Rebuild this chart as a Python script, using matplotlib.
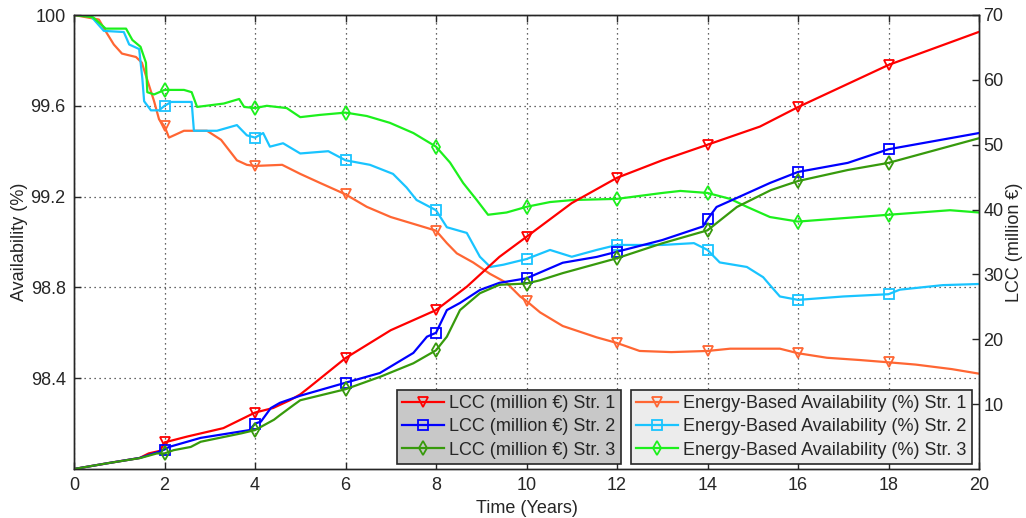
import numpy as np
import matplotlib
matplotlib.use("Agg")
import matplotlib.pyplot as plt
from matplotlib.lines import Line2D

plt.rcParams['font.family'] = ['Liberation Sans', 'DejaVu Sans']

# availability (%)
t_av1 = [0, 0.55, 0.71, 0.88, 1.06, 1.37, 1.5, 1.61, 1.77, 1.88, 2, 2.1, 2.43, 2.94, 3.25, 3.6, 3.82, 4,
         4.6, 5, 5.44, 6, 6.47, 7, 7.5, 8, 8.24, 8.46, 8.82, 9.19, 9.56, 9.86, 10, 10.3, 10.8, 11.55, 12,
         12.5, 13.2, 14, 14.5, 15.6, 16, 16.64, 17.37, 18, 18.6, 19.4, 20]
av1 = [100, 99.98, 99.925, 99.87, 99.83, 99.815, 99.79, 99.72, 99.62, 99.54, 99.51, 99.46, 99.49, 99.49,
       99.45, 99.36, 99.34, 99.335, 99.34, 99.30, 99.26, 99.21, 99.155, 99.11, 99.08, 99.05, 98.995, 98.95,
       98.91, 98.86, 98.82, 98.76, 98.74, 98.69, 98.63, 98.58, 98.555, 98.52, 98.515, 98.52, 98.53, 98.53,
       98.51, 98.49, 98.48, 98.47, 98.46, 98.44, 98.42]

t_av2 = [0, 0.35, 0.66, 1.1, 1.22, 1.44, 1.51, 1.55, 1.7, 1.88, 2, 2.15, 2.6, 2.65, 3.16, 3.6, 3.82, 4,
         4.18, 4.33, 4.62, 5, 5.62, 6, 6.54, 7.05, 7.35, 7.57, 8, 8.24, 8.68, 8.97, 9.2, 9.49, 10, 10.52,
         11.0, 11.55, 12, 13.0, 13.7, 14, 14.27, 14.87, 15.23, 15.38, 15.6, 16, 17, 18, 18.25, 19.2, 20]
av2 = [100, 100, 99.93, 99.925, 99.87, 99.85, 99.72, 99.62, 99.58, 99.58, 99.60, 99.617, 99.617, 99.49,
       99.49, 99.515, 99.47, 99.46, 99.48, 99.42, 99.435, 99.39, 99.40, 99.36, 99.34, 99.30, 99.24, 99.185,
       99.14, 99.065, 99.04, 98.935, 98.89, 98.90, 98.925, 98.965, 98.935, 98.965, 98.987, 98.987, 98.995,
       98.965, 98.91, 98.89, 98.845, 98.81, 98.76, 98.745, 98.76, 98.77, 98.79, 98.81, 98.815]

t_av3 = [0, 0.42, 0.7, 1.15, 1.29, 1.47, 1.59, 1.62, 1.77, 2, 2.43, 2.6, 2.72, 3.31, 3.65, 3.76, 4, 4.26,
         4.7, 5, 5.44, 6, 6.47, 6.98, 7.5, 8, 8.31, 8.6, 8.9, 9.15, 9.56, 10, 10.52, 11.03, 12, 13.0, 13.4,
         14, 14.5, 14.87, 15.38, 16, 17, 18, 19.36, 20]
av3 = [100, 99.99, 99.94, 99.94, 99.89, 99.86, 99.79, 99.66, 99.65, 99.67, 99.67, 99.66, 99.595, 99.61,
       99.63, 99.595, 99.59, 99.60, 99.59, 99.55, 99.56, 99.57, 99.555, 99.525, 99.48, 99.42, 99.35, 99.26,
       99.185, 99.12, 99.13, 99.155, 99.176, 99.185, 99.19, 99.216, 99.225, 99.216, 99.19, 99.155, 99.11,
       99.09, 99.105, 99.12, 99.14, 99.13]

# LCC (million EUR)
t_lcc1 = [0, 0.75, 1.45, 1.65, 1.9, 2, 2.5, 3.3, 4, 4.4, 4.77, 5, 5.2, 6, 7, 8, 8.68, 9.4, 10, 11, 12, 13,
          14, 15.16, 16, 18, 20]
lcc1 = [0, 0.9, 1.7, 2.4, 2.8, 4.1, 5.0, 6.3, 8.7, 9.4, 10.6, 11.5, 12.6, 17.1, 21.4, 24.5, 28.1, 32.7,
        35.8, 41.0, 44.9, 47.6, 50.0, 52.8, 55.8, 62.3, 67.4]

t_lcc2 = [0, 0.75, 1.45, 1.85, 2.0, 2.1, 2.8, 3.7, 3.88, 4.0, 4.13, 4.35, 4.55, 5, 6, 6.76, 7.5, 7.8, 8,
          8.24, 8.53, 8.97, 9.4, 10, 10.8, 11.55, 12, 13.0, 13.9, 14, 14.2, 14.65, 15.38, 16, 17.1, 18, 20]
lcc2 = [0, 0.9, 1.7, 2.6, 3.0, 3.4, 4.8, 5.8, 6.0, 7.0, 7.3, 9.4, 10.2, 11.3, 13.3, 14.8, 17.9, 20.4, 21.0,
        24.5, 25.6, 27.6, 28.7, 29.4, 31.8, 32.7, 33.5, 35.3, 37.4, 38.5, 40.4, 41.8, 44.1, 45.8, 47.2, 49.3,
        51.8]

t_lcc3 = [0, 0.75, 1.47, 1.83, 2, 2.2, 2.58, 2.8, 3.7, 4, 4.42, 4.55, 4.86, 5, 6, 6.76, 7.5, 8, 8.24, 8.53,
          8.97, 9.4, 10, 10.3, 10.8, 12, 13, 14, 14.65, 15.4, 16, 17.1, 18, 20]
lcc3 = [0, 0.9, 1.7, 2.4, 2.4, 2.9, 3.4, 4.2, 5.5, 6.0, 7.6, 8.3, 9.9, 10.6, 12.3, 14.2, 16.3, 18.3, 20.4,
        24.5, 27.1, 28.4, 28.6, 29.1, 30.2, 32.5, 34.8, 36.8, 40.4, 43.0, 44.4, 46.1, 47.2, 51.0]

lcc_labels = ['LCC (million €) Str. 1', 'LCC (million €) Str. 2', 'LCC (million €) Str. 3']
av_labels = ['Energy-Based Availability (%) Str. 1', 'Energy-Based Availability (%) Str. 2',
             'Energy-Based Availability (%) Str. 3']

mark_years = np.arange(2, 19, 2)


def marks(t):
    t = np.asarray(t)
    return [i for i, v in enumerate(t) if np.any(np.isclose(v, mark_years))]


fig = plt.figure(figsize=(10.26, 5.18), dpi=100)
ax1 = fig.add_axes([74 / 1026, 49 / 518, 905 / 1026, 454 / 518])
ax2 = ax1.twinx()

lw = 1.6
ms = 7.5
av_style = [('#ff6633', 'v'), ('#19c4ff', 's'), ('#1cf01c', 'd')]
lcc_style = [('#ff0000', 'v'), ('#0000ff', 's'), ('#379a0c', 'd')]

for (tt, yy), (c, m) in zip([(t_av1, av1), (t_av2, av2), (t_av3, av3)], av_style):
    ax1.plot(tt, yy, color=c, lw=lw, marker=m, ms=ms, mfc='none', mec=c, mew=1.3, markevery=marks(tt))

for (tt, yy), (c, m) in zip([(t_lcc1, lcc1), (t_lcc2, lcc2), (t_lcc3, lcc3)], lcc_style):
    ax2.plot(tt, yy, color=c, lw=lw, marker=m, ms=ms, mfc='none', mec=c, mew=1.3, markevery=marks(tt))

dark = '#262626'
ax1.set_xlim(0, 20)
ax1.set_xticks(np.arange(0, 21, 2))
ax1.set_ylim(98.0, 100)
ax1.set_yticks([98.4, 98.8, 99.2, 99.6, 100])
ax1.set_yticklabels(['98.4', '98.8', '99.2', '99.6', '100'])
ax2.set_ylim(0, 70)
ax2.set_yticks(np.arange(10, 71, 10))

ax1.grid(True, linestyle=(0, (1, 3)), color='#333333', lw=0.9)
for ax in (ax1, ax2):
    ax.tick_params(direction='in', length=5, width=1, colors=dark, labelsize=13)
    for s in ax.spines.values():
        s.set_color(dark)
        s.set_linewidth(1)
ax1.tick_params(top=True, pad=6)
ax2.tick_params(pad=3)

ax1.set_xlabel('Time (Years)', fontsize=13, color=dark, labelpad=4)
ax1.set_ylabel('Availability (%)', fontsize=13, color=dark, labelpad=2)
ax2.set_ylabel('LCC (million €)', fontsize=13, color=dark, labelpad=2)

h1 = [Line2D([], [], color=c, lw=lw, marker=m, ms=ms, mfc='none', mec=c, mew=1.3) for c, m in lcc_style]
h2 = [Line2D([], [], color=c, lw=lw, marker=m, ms=ms, mfc='none', mec=c, mew=1.3) for c, m in av_style]

leg_kw = dict(fontsize=13, fancybox=False, framealpha=1, edgecolor=dark, handlelength=2.3,
              handletextpad=0.3, labelspacing=0.35, borderpad=0.3, borderaxespad=0)
leg1 = ax2.legend(h1, lcc_labels, loc='lower left', bbox_to_anchor=(397 / 1026, 54 / 518),
                  bbox_transform=fig.transFigure, facecolor='#c8c8c8', **leg_kw)
leg1.get_frame().set_linewidth(1.2)
ax2.add_artist(leg1)
leg2 = ax2.legend(h2, av_labels, loc='lower right', bbox_to_anchor=(972 / 1026, 54 / 518),
                  bbox_transform=fig.transFigure, facecolor='#ececec', **leg_kw)
leg2.get_frame().set_linewidth(1.2)
for t in leg1.get_texts() + leg2.get_texts():
    t.set_color(dark)

fig.savefig('out.png', dpi=100)
